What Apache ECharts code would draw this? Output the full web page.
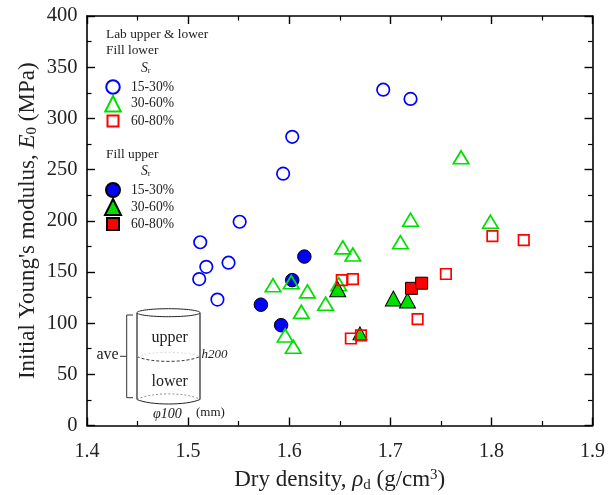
<!DOCTYPE html>
<html><head><meta charset="utf-8">
<style>html,body{margin:0;padding:0;background:#fff}#c{width:616px;height:495px}</style>
<script src="https://cdn.jsdelivr.net/npm/echarts@6/dist/echarts.min.js"></script>
</head><body><div id="c"></div>
<script>
const lowerBlue = [[1.603,282],[1.594,246],[1.551,199],[1.512,179],[1.511,143],[1.518,155],[1.54,159],[1.529,123],[1.693,328],[1.72,319]];
const lowerGreen = [[1.584,137],[1.602,140],[1.618,131],[1.612,111],[1.636,119],[1.596,88],[1.604,77],[1.653,174],[1.663,167],[1.649,138],[1.71,179],[1.72,201],[1.77,262],[1.799,199]];
const lowerRed = [[1.652,142],[1.663,143],[1.755,148],[1.801,185],[1.832,181],[1.727,104],[1.661,85],[1.671,88]];
const upperBlue = [[1.615,165],[1.603,142],[1.572,118],[1.592,98]];
const upperGreen = [[1.648,133],[1.703,124],[1.717,122],[1.67,90]];
const upperRed = [[1.721,134],[1.731,139]];
const srLabels = {u15:'15-30%',u30:'30-60%',u60:'60-80%',l15:'15-30%',l30:'30-60%',l60:'60-80%'};
const F = '"Liberation Serif","Times New Roman",serif';
const BLUE='#0000ff', GREEN='#00e000', RED='#ff0000';
const open = (name,data,sym,size,col,z)=>({name,type:'scatter',data,symbol:sym,symbolSize:size,z,
  itemStyle:{opacity:1,borderColor:col,borderWidth:1.7,color:'rgba(0,0,0,0)'}});
const solid = (name,data,sym,size,col,z)=>({name,type:'scatter',data,symbol:sym,symbolSize:size,z,
  itemStyle:{color:col,opacity:1,borderColor:'#000',borderWidth:1}});
const series=[
  solid('u15',upperBlue,'circle',13.5,BLUE,2),
  open('l15',lowerBlue,'circle',12.5,BLUE,3),
  open('l30',lowerGreen,'triangle',[15.5,13],GREEN,4),
  solid('u30',upperGreen,'triangle',[16,15],GREEN,5),
  solid('u60',upperRed,'rect',12,RED,6),
  open('l60',lowerRed,'rect',10.5,RED,7)
];
series[3].data = upperGreen.map((p,i)=> i===3 ? {value:p,symbolSize:[14,13]} : p);
const oneLegend=(name,size,yc)=>({orient:'vertical',left:112-size/2,top:yc-8,padding:0,itemWidth:size,itemHeight:size,selectedMode:false,
  textStyle:{fontFamily:F,fontSize:13.6,color:'#222',lineHeight:16,padding:[0,0,0,130-(112+size/2)-5]},
  formatter:n=>srLabels[n],data:[{name}]});
const axisCommon={axisLine:{show:true,onZero:false,lineStyle:{color:'#000',width:1.6}},
  axisTick:{inside:true,length:8,lineStyle:{color:'#000',width:1.4}},
  minorTick:{show:true,splitNumber:2,length:4.5,lineStyle:{color:'#000',width:1.2}},
  splitLine:{show:false}};
const T=(x,y,text,o={})=>({type:'text',x,y,z:10,style:Object.assign({text,fill:'#222',font:`13.4px ${F}`,textVerticalAlign:'middle'},o)});
const L=(shape,o={})=>({type:'line',z:10,shape,style:Object.assign({stroke:'#333',lineWidth:1,fill:null},o)});
const B=(y1,cy,o)=>({type:'bezierCurve',z:10,shape:{x1:137,y1,cpx1:150,cpy1:cy,cpx2:187,cpy2:cy,x2:200,y2:y1},style:Object.assign({fill:null},o)});
const srText=(x,y)=>({type:'text',x,y,z:10,style:{text:'{s|S}{r|r}',textVerticalAlign:'middle',
   rich:{s:{fontFamily:F,fontStyle:'italic',fontSize:13.6,fill:'#222'},r:{fontFamily:F,fontSize:8.5,fill:'#222',verticalAlign:'bottom',padding:[6,0,0,0]}}}});
const richTitle={a:{fontFamily:F,fontSize:23,color:'#222'},i:{fontFamily:F,fontSize:23,fontStyle:'italic',color:'#222'},
  sub:{fontFamily:F,fontSize:15,color:'#222',verticalAlign:'bottom',padding:[10,0,0,0]},
  sup:{fontFamily:F,fontSize:15,color:'#222',verticalAlign:'top',padding:[0,0,10,0]}};
const chart=echarts.init(document.getElementById('c'));
chart.setOption({
  animation:false,backgroundColor:'#fff',
  grid:{left:87,right:23.5,top:16,bottom:69.5,outerBoundsMode:'none'},
  xAxis:[
    Object.assign({type:'value',min:1.4,max:1.9,interval:0.1,position:'bottom',
      axisLabel:{fontFamily:F,fontSize:20,color:'#222',margin:16,formatter:v=>v.toFixed(1)},
      name:'{a|Dry density, }{i|ρ}{sub|d}{a| (g/cm}{sup|3}{a|)}',nameLocation:'middle',nameGap:42,nameMoveOverlap:false,
      nameTextStyle:{rich:richTitle}},axisCommon),
    Object.assign({type:'value',min:1.4,max:1.9,interval:0.1,position:'top',axisLabel:{show:false}},axisCommon)
  ],
  yAxis:[
    Object.assign({type:'value',min:0,max:400,interval:50,position:'left',
      axisLabel:{fontFamily:F,fontSize:20.5,color:'#222',margin:9.5},
      name:'{a|Initial Young\'s modulus, }{i|E}{sub|0}{a| (MPa)}',nameLocation:'middle',nameGap:47,nameMoveOverlap:false,
      nameTextStyle:{rich:richTitle}},axisCommon),
    Object.assign({type:'value',min:0,max:400,interval:50,position:'right',axisLabel:{show:false}},axisCommon)
  ],
  legend:[oneLegend('l15',13.5,87),oneLegend('l30',15.5,103),oneLegend('l60',11,121),
          oneLegend('u15',14,190),oneLegend('u30',16,206),oneLegend('u60',12,224)],
  series,
  graphic:[
    T(106,34,'Lab upper & lower'),T(106,50,'Fill lower'),srText(141,68),
    T(106,154,'Fill upper'),srText(141,171),
    {type:'ellipse',z:10,shape:{cx:168.5,cy:312.7,rx:31.5,ry:4},style:{stroke:'#222',lineWidth:1,fill:'#fff'}},
    L({x1:137,y1:313,x2:137,y2:399.5},{lineWidth:1.3}),
    L({x1:200,y1:313,x2:200,y2:399.5},{lineWidth:1.3}),
    B(399.5,405.5,{stroke:'#222',lineWidth:1}),
    B(399.5,392,{stroke:'#777',lineWidth:0.8,lineDash:[2,2]}),
    B(356.5,363,{stroke:'#222',lineWidth:0.9,lineDash:[3,2]}),
    B(356.5,351,{stroke:'#ccc',lineWidth:0.7,lineDash:[2,2]}),
    L({x1:133,y1:315,x2:126.7,y2:315}),L({x1:126.7,y1:315,x2:126.7,y2:397.7}),L({x1:126.7,y1:397.7,x2:133,y2:397.7}),
    L({x1:120,y1:356.3,x2:126.7,y2:356.3}),
    T(96.5,355,'ave',{font:`16px ${F}`}),
    T(151.5,338,'upper',{font:`16px ${F}`}),
    T(151.5,382,'lower',{font:`16px ${F}`}),
    T(201.5,355,'h200',{font:`italic 13px ${F}`}),
    T(153,414,'φ100',{font:`italic 14px ${F}`}),
    T(196,413,'(mm)',{font:`13px ${F}`})
  ]
});
</script></body></html>
